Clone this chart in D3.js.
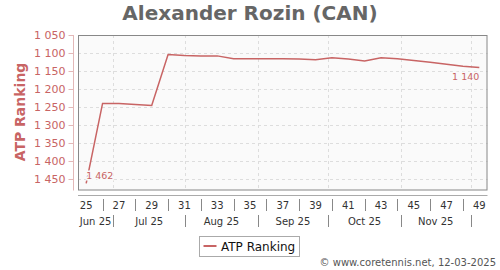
<!DOCTYPE html>
<html>
<head>
<meta charset="utf-8">
<script src="https://cdn.jsdelivr.net/npm/d3@7"></script>
<style>
  body { margin: 0; background: #fff; }
  svg { display: block; font-family: "DejaVu Sans", sans-serif; }
</style>
</head>
<body>
<div id="chart"></div>
<script>
// ATP ranking by week number (2025)
const weeks = [25, 26, 27, 28, 29, 30, 31, 32, 33, 34, 35, 36, 37, 38, 39, 40, 41, 42, 43, 44, 45, 46, 47, 48, 49];
const ranking = [1462, 1240, 1240, 1243, 1246, 1104, 1107, 1108, 1108, 1116, 1116, 1116, 1116, 1117, 1119,
                 1113, 1117, 1122, 1113, 1116, 1121, 1126, 1131, 1137, 1140];

const yTicks = [1050, 1100, 1150, 1200, 1250, 1300, 1350, 1400, 1450];
const weekLabels = [25, 27, 29, 31, 33, 35, 37, 39, 41, 43, 45, 47, 49];
const weekSeparators = [26, 28, 30, 32, 34, 36, 38, 40, 42, 44, 46, 48];

// month boundaries expressed in week units
const monthNames = ["Jun 25", "Jul 25", "Aug 25", "Sep 25", "Oct 25", "Nov 25"];
const monthEdges = [24.5, 26.65, 31.05, 35.46, 39.79, 44.2, 48.48];

const W = 500, H = 270;
const plot = { left: 78, right: 487.5, top: 35, bottom: 190.5 };
const lineColor = "#c86464";

const svg = d3.select("#chart").append("svg")
    .attr("width", W)
    .attr("height", H);

const x = d3.scaleLinear().domain([24.5, 49.5]).range([plot.left, plot.right]);
const y = d3.scaleLinear().domain([1050, 1482]).range([plot.top, plot.bottom]);

// title
svg.append("text")
    .attr("x", 250).attr("y", 20)
    .attr("text-anchor", "middle")
    .attr("font-size", "20px").attr("font-weight", "bold")
    .attr("fill", "#666")
    .text("Alexander Rozin (CAN)");

// plot background
svg.append("rect")
    .attr("x", plot.left).attr("y", plot.top)
    .attr("width", plot.right - plot.left).attr("height", plot.bottom - plot.top)
    .attr("fill", "#fafafa");

// grid
svg.append("g").selectAll("line")
    .data(yTicks.slice(1))
    .join("line")
    .attr("x1", plot.left).attr("x2", plot.right)
    .attr("y1", d => Math.round(y(d)) + 0.5).attr("y2", d => Math.round(y(d)) + 0.5)
    .attr("stroke", "#ddd").attr("stroke-dasharray", "3,3");

svg.append("g").selectAll("line")
    .data(monthEdges.slice(1))
    .join("line")
    .attr("x1", d => Math.round(x(d)) + 0.5).attr("x2", d => Math.round(x(d)) + 0.5)
    .attr("y1", plot.top).attr("y2", plot.bottom)
    .attr("stroke", "#ddd").attr("stroke-dasharray", "3,3");

// plot border
svg.append("rect")
    .attr("x", plot.left + 0.5).attr("y", plot.top + 0.5)
    .attr("width", plot.right - plot.left - 1).attr("height", plot.bottom - plot.top - 1)
    .attr("fill", "none").attr("stroke", "#888");

// y axis
const yAxis = svg.append("g")
    .attr("transform", "translate(73.5,0)")
    .call(d3.axisLeft(y).tickValues(yTicks).tickSize(5).tickFormat(d => d3.format(",")(d).replace(",", " ")));
yAxis.select(".domain").attr("stroke", "#e3b8b8").attr("d", `M0,${plot.top}V${plot.bottom}`);
yAxis.selectAll(".tick line").attr("stroke", "#e3b8b8");
yAxis.selectAll(".tick text")
    .attr("fill", lineColor)
    .attr("font-size", "11px")
    .attr("font-family", "DejaVu Sans, sans-serif")
    .attr("x", -8);

svg.append("text")
    .attr("transform", `translate(25,112) rotate(-90)`)
    .attr("text-anchor", "middle")
    .attr("font-size", "14px").attr("font-weight", "bold")
    .attr("fill", lineColor)
    .text("ATP Ranking");

// x axis (week row + month row)
svg.append("line")
    .attr("x1", plot.left).attr("x2", plot.right)
    .attr("y1", 195.5).attr("y2", 195.5)
    .attr("stroke", "#aaa");

svg.append("g").selectAll("text")
    .data(weekLabels)
    .join("text")
    .attr("x", d => x(d)).attr("y", 208.5)
    .attr("text-anchor", "middle")
    .attr("font-size", "10px").attr("fill", "#333")
    .text(d => d);

svg.append("g").selectAll("line")
    .data(weekSeparators)
    .join("line")
    .attr("x1", d => Math.round(x(d)) + 0.5).attr("x2", d => Math.round(x(d)) + 0.5)
    .attr("y1", 199).attr("y2", 211)
    .attr("stroke", "#888");

svg.append("g").selectAll("text")
    .data(monthNames)
    .join("text")
    .attr("x", (d, i) => (x(monthEdges[i]) + x(monthEdges[i + 1])) / 2)
    .attr("y", 224.5)
    .attr("text-anchor", "middle")
    .attr("font-size", "10px").attr("fill", "#333")
    .text(d => d);

svg.append("g").selectAll("line")
    .data(monthEdges.slice(1))
    .join("line")
    .attr("x1", d => Math.round(x(d)) + 0.5).attr("x2", d => Math.round(x(d)) + 0.5)
    .attr("y1", 215).attr("y2", 227)
    .attr("stroke", "#888");

// ranking line
const points = weeks.map((w, i) => ({ week: w, rank: ranking[i] }));
svg.append("path")
    .datum(points)
    .attr("fill", "none")
    .attr("stroke", lineColor)
    .attr("stroke-width", 1.5)
    .attr("d", d3.line().x(d => x(d.week)).y(d => y(d.rank)));

// first / last value labels
const first = points[0], last = points[points.length - 1];
svg.append("text")
    .attr("x", x(first.week)).attr("y", y(first.rank) - 4)
    .attr("font-size", "9.5px").attr("fill", lineColor)
    .attr("stroke", "#fafafa").attr("stroke-width", 3).attr("paint-order", "stroke")
    .text(d3.format(",")(first.rank).replace(",", " "));
svg.append("text")
    .attr("x", x(last.week)).attr("y", y(last.rank) + 12.5)
    .attr("text-anchor", "end")
    .attr("font-size", "9.5px").attr("fill", lineColor)
    .attr("stroke", "#fafafa").attr("stroke-width", 3).attr("paint-order", "stroke")
    .text(d3.format(",")(last.rank).replace(",", " "));

// legend
const legend = svg.append("g").attr("transform", "translate(199.5,236.5)");
legend.append("rect")
    .attr("width", 100).attr("height", 20)
    .attr("fill", "#fff").attr("stroke", "#aaa");
legend.append("line")
    .attr("x1", 4).attr("x2", 17).attr("y1", 9.5).attr("y2", 9.5)
    .attr("stroke", lineColor).attr("stroke-width", 2);
legend.append("text")
    .attr("x", 21.5).attr("y", 14)
    .attr("font-size", "12px").attr("fill", "#111")
    .text("ATP Ranking");

// credit
svg.append("text")
    .attr("x", 496).attr("y", 266)
    .attr("text-anchor", "end")
    .attr("font-size", "10px").attr("fill", "#555")
    .text("© www.coretennis.net, 12-03-2025");
</script>
</body>
</html>
